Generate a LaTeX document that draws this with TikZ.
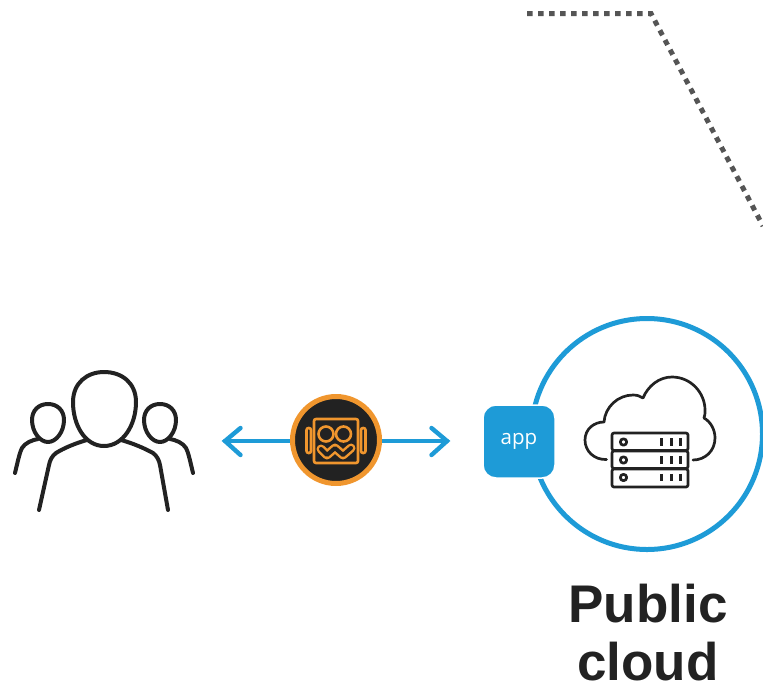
\documentclass[tikz,border=0pt]{standalone}
\usepackage{fontspec}
\setmainfont{Liberation Sans}
\newfontfamily\appfont{Open Sans}
\definecolor{bluec}{HTML}{1E9BD7}
\definecolor{orangec}{HTML}{F0962E}
\definecolor{inkc}{HTML}{222222}
\definecolor{dotc}{HTML}{555555}
\tikzset{
  ink/.style={draw=inkc,line width=4pt,line cap=round,line join=round},
  thin ink/.style={draw=inkc,line width=2.7pt,line cap=round,line join=round},
  robot/.style={draw=orangec,line width=2.6pt,line join=round},
  link/.style={draw=bluec,line width=4.4pt,line cap=round,line join=miter},
  boundary/.style={draw=dotc,line width=5pt,dash pattern=on 5.5pt off 5.5pt},
  title/.style={font=\bfseries\fontsize{53pt}{58pt}\selectfont,text=inkc,align=center,inner sep=0pt}
}
\begin{document}
\begin{tikzpicture}[x=1pt,y=-1pt]
\useasboundingbox (0,0) rectangle (763,686);
% dotted boundary
\coordinate (d1) at (527,13.5);
\coordinate (d2) at (651,13.5);
\coordinate (d3) at (763,226);
\draw[boundary] (d1) -- (d2) -- (d3);
% users
\draw[ink] (104,446) .. controls (85,446) and (73,425) .. (73,402)
  .. controls (73,383) and (87,372) .. (104,372)
  .. controls (122,372) and (136,383) .. (136,402)
  .. controls (136,425) and (123,446) .. (104,446) -- cycle;
\draw[ink] (87,440) .. controls (76,443) and (64,448) .. (56,453)
  .. controls (52,456) and (50,460) .. (49,465) -- (39,510);
\draw[ink] (121,440) .. controls (132,443) and (144,448) .. (153,453)
  .. controls (157,456) and (159,460) .. (160,465) -- (168,510);
\draw[ink] (48,442) .. controls (40,442) and (32,432) .. (32,420)
  .. controls (32,410) and (39,404) .. (48,404)
  .. controls (57,404) and (64,410) .. (64,420)
  .. controls (64,432) and (56,442) .. (48,442) -- cycle;
\draw[ink] (38,439) .. controls (32,440) and (25,443) .. (22,448)
  .. controls (20,452) and (19,456) .. (15,473);
\draw[ink] (160,442) .. controls (152,442) and (144,432) .. (144,420)
  .. controls (144,410) and (151,404) .. (160,404)
  .. controls (169,404) and (176,410) .. (176,420)
  .. controls (176,432) and (168,442) .. (160,442) -- cycle;
\draw[ink] (170,439) .. controls (176,440) and (183,443) .. (186,448)
  .. controls (188,452) and (189,456) .. (193,473);
% arrows
\coordinate (tipl) at (225,441);
\coordinate (tipr) at (447,441);
\coordinate (bl1) at (240.5,428);
\coordinate (bl2) at (240.5,455);
\coordinate (br1) at (431.5,428);
\coordinate (br2) at (431.5,455);
\node[circle,minimum size=87pt,inner sep=0pt] (gateway) at (336,441) {};
\draw[link] (gateway.center) -- (tipl);
\draw[link] (bl1) -- (tipl) -- (bl2);
\draw[link] (gateway.center) -- (tipr);
\draw[link] (br1) -- (tipr) -- (br2);
% badge
\draw[fill=inkc,draw=orangec,line width=5pt] (336,440) circle[radius=43.5pt];
\draw[robot,rounded corners=2pt] (314,419) rectangle (358,463);
\draw[robot,rounded corners=2pt] (306.5,428) rectangle (311,453);
\draw[robot,rounded corners=2pt] (361,428) rectangle (365.5,453);
\draw[robot] (326,434) circle[radius=7.5pt];
\draw[robot] (343.5,434) circle[radius=7.5pt];
\draw[draw=orangec,line width=9pt,line join=round,line cap=round]
  (321,449) -- (327,455) -- (335,448) -- (343,455) -- (351,448);
\draw[draw=inkc,line width=4pt,line join=round,line cap=round]
  (321,449) -- (327,455) -- (335,448) -- (343,455) -- (351,448);
% public cloud
\node[circle,minimum size=231pt,inner sep=0pt] (public) at (647,434) {};
\draw[draw=bluec,line width=5pt] (public.center) circle[radius=115.5pt];
% cloud icon
\draw[thin ink] (606.5,459.5) .. controls (594,460) and (585,451) .. (585,440)
  .. controls (585,429) and (594,422) .. (604,422)
  .. controls (605,407) and (618,395) .. (633,395)
  .. controls (637,395) and (640,396) .. (643,398)
  .. controls (648,386) and (659,377) .. (672,377)
  .. controls (691,377) and (705,393) .. (705,410)
  .. controls (705,413) and (705,416) .. (704,418)
  .. controls (711,422) and (715,430) .. (715,438)
  .. controls (715,451) and (705,460) .. (693,460);
\foreach \yt/\yb/\yc in {433/450.5/442, 451/468.5/460, 469/487/477.5}{
  \draw[thin ink,fill=white,rounded corners=2pt] (612,\yt) rectangle (688,\yb);
  \draw[thin ink] (623.5,\yc) circle[radius=3.2pt];
  \foreach \xb in {661.5,671,680}{
    \draw[draw=inkc,line cap=butt,line width=3pt] (\xb,\yc-3.7) -- (\xb,\yc+3.7);
  }
}
% app
\node[draw=white,line width=1.5pt,fill=bluec,rounded corners=13pt,minimum width=72pt,minimum height=73pt,inner sep=0pt,text=white,font=\appfont\fontsize{20.5pt}{24pt}\selectfont] (app) at (519,441.5) {\raisebox{-2pt}{app}};
% title
\node[title,anchor=north] (titlelabel) at (648,583.5) {Public\\cloud};
\end{tikzpicture}
\end{document}
